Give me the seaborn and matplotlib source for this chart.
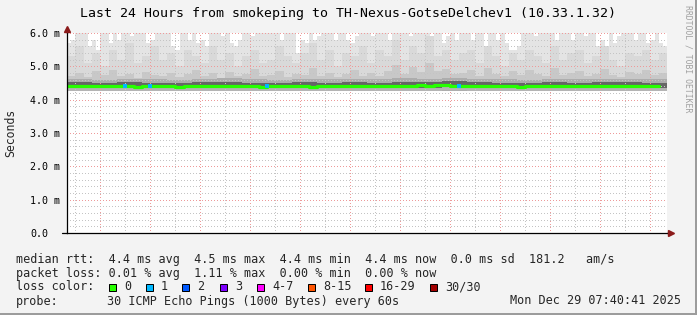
import numpy as np
import pandas as pd
import matplotlib
matplotlib.use("Agg")
import matplotlib.pyplot as plt
import matplotlib.dates as mdates
from matplotlib.ticker import MultipleLocator, FuncFormatter
from matplotlib.patches import Rectangle
import seaborn as sns

# ---------------- data ----------------
title = "Last 24 Hours from smokeping to TH-Nexus-GotseDelchev1 (10.33.1.32)"
t_start = "2025-12-28 07:40:41"
t_end = "2025-12-29 07:40:41"

# lightest smoke: maximum ping per 10-min bin (ms), clipped at top of graph
smoke_top = [
    5.7, 5.8, 6.2, 6.2, 6.2, 5.6, 5.8, 5.5, 6.2, 6.2, 5.7, 6.2,
    5.8, 6.2, 6.2, 5.9, 6.2, 6.2, 6.2, 5.7, 5.8, 6.2, 6.2, 6.2,
    6.2, 5.6, 5.5, 6.2, 6.2, 5.8, 6.2, 5.7, 5.8, 5.6, 6.2, 6.2,
    6.2, 5.9, 6.2, 5.7, 5.6, 5.8, 6.2, 6.2, 5.9, 6.2, 6.2, 6.2,
    6.2, 6.2, 6.2, 5.8, 6.2, 6.2, 6.2, 5.4, 5.8, 5.7, 6.2, 5.8,
    5.9, 6.2, 6.2, 6.2, 5.8, 6.2, 6.2, 5.8, 5.7, 5.9, 6.2, 6.2,
    6.2, 5.9, 6.2, 6.2, 6.2, 5.8, 6.2, 6.2, 6.2, 6.2, 5.9, 6.2,
    6.2, 6.2, 6.2, 5.9, 6.2, 6.2, 5.7, 5.9, 6.2, 5.8, 6.2, 6.2,
    6.2, 5.8, 6.2, 6.2, 5.6, 6.2, 6.2, 5.8, 6.2, 5.7, 5.5, 5.5,
    5.6, 6.2, 6.2, 6.2, 5.9, 6.2, 6.2, 6.2, 6.2, 5.8, 6.2, 6.2,
    6.2, 5.8, 6.2, 6.2, 5.9, 6.2, 6.2, 5.6, 5.8, 5.5, 6.2, 5.7,
    5.9, 6.2, 6.2, 6.2, 5.8, 6.2, 6.2, 5.7, 5.8, 6.2, 5.7, 5.6,
]

# second smoke layer per 20-min bin (ms)
smoke_upper = [
    5.3, 5.6, 5.1, 5.4, 5.0, 5.5, 5.2, 5.7, 5.1, 5.3, 5.6, 5.2,
    5.4, 5.0, 5.5, 5.3, 5.1, 5.6, 5.2, 5.4, 5.0, 5.3, 5.5, 5.1,
    5.2, 5.6, 5.3, 5.1, 5.4, 5.7, 5.2, 5.5, 5.0, 5.4, 5.3, 5.6,
    5.1, 5.5, 5.3, 5.8, 5.2, 5.6, 5.4, 5.9, 5.3, 5.5, 5.2, 5.4,
    5.5, 5.1, 5.6, 5.3, 5.0, 5.4, 5.2, 5.5, 5.3, 5.1, 5.6, 5.2,
    5.4, 5.5, 5.1, 5.3, 5.6, 5.2, 5.0, 5.4, 5.3, 5.5, 5.2, 5.4,
]

# middle smoke layer per 20-min bin (ms)
smoke_mid = [
    4.72, 4.80, 4.68, 4.85, 4.74, 4.90, 4.70, 4.78, 4.66, 4.82, 4.75, 4.70,
    4.80, 4.68, 4.76, 4.88, 4.72, 4.79, 4.66, 4.84, 4.70, 4.77, 4.92, 4.71,
    4.74, 4.86, 4.69, 4.78, 4.73, 4.95, 4.70, 4.81, 4.68, 4.76, 4.89, 4.72,
    4.80, 4.71, 4.87, 5.05, 4.78, 4.98, 4.82, 5.10, 4.85, 4.93, 4.76, 4.80,
    4.88, 4.72, 4.96, 4.78, 4.70, 4.85, 4.74, 4.90, 4.76, 4.71, 4.94, 4.75,
    4.80, 4.86, 4.72, 4.78, 4.91, 4.74, 4.69, 4.83, 4.76, 4.88, 4.73, 4.80,
]

# inner smoke bands per hour (ms)
smoke_inner = [4.62, 4.60, 4.63, 4.61, 4.60, 4.62, 4.64, 4.61, 4.60, 4.62, 4.61, 4.63,
               4.62, 4.64, 4.63, 4.66, 4.62, 4.61, 4.60, 4.62, 4.61, 4.63, 4.62, 4.61]
core_hi = [4.52, 4.51, 4.52, 4.51, 4.50, 4.52, 4.53, 4.51, 4.50, 4.52, 4.51, 4.52,
           4.51, 4.53, 4.52, 4.55, 4.52, 4.51, 4.50, 4.52, 4.51, 4.52, 4.52, 4.51]
core_lo = [4.36, 4.35, 4.36, 4.35, 4.35, 4.36, 4.36, 4.35, 4.35, 4.36, 4.35, 4.36,
           4.35, 4.36, 4.36, 4.38, 4.36, 4.35, 4.35, 4.36, 4.35, 4.36, 4.36, 4.35]
smoke_low = [4.27, 4.26, 4.27, 4.26, 4.25, 4.27, 4.27, 4.26, 4.26, 4.27, 4.26, 4.27,
             4.26, 4.27, 4.27, 4.29, 4.27, 4.26, 4.26, 4.27, 4.26, 4.27, 4.27, 4.26]

# median RTT per 20-min bin (ms) and lost pings in that bin
median_ms = [
    4.42, 4.41, 4.42, 4.41, 4.40, 4.41, 4.42, 4.40, 4.39, 4.41, 4.42, 4.41,
    4.40, 4.38, 4.40, 4.41, 4.42, 4.41, 4.40, 4.41, 4.42, 4.41, 4.40, 4.39,
    4.41, 4.40, 4.41, 4.42, 4.40, 4.39, 4.41, 4.42, 4.41, 4.40, 4.41, 4.42,
    4.40, 4.41, 4.42, 4.41, 4.40, 4.42, 4.43, 4.41, 4.44, 4.45, 4.42, 4.41,
    4.42, 4.41, 4.40, 4.42, 4.41, 4.40, 4.38, 4.40, 4.42, 4.41, 4.40, 4.41,
    4.42, 4.41, 4.42, 4.40, 4.41, 4.42, 4.41, 4.42, 4.40, 4.42, 4.41, 4.41,
]
loss_count = [0] * 72
for i in (7, 10, 24, 47):
    loss_count[i] = 1

y_ticks = [0, 1, 2, 3, 4, 5, 6]
y_tick_labels = ["0.0", "1.0 m", "2.0 m", "3.0 m", "4.0 m", "5.0 m", "6.0 m"]

loss_labels = ["0", "1", "2", "3", "4-7", "8-15", "16-29", "30/30"]
loss_colors = ["#26ff00", "#00b8ff", "#0059ff", "#7e00ff", "#ff00ff",
               "#ff5500", "#ff0000", "#a10000"]

row_rtt = "median rtt:  4.4 ms avg  4.5 ms max  4.4 ms min  4.4 ms now  0.0 ms sd  181.2   am/s"
row_loss = "packet loss: 0.01 % avg  1.11 % max  0.00 % min  0.00 % now"
row_color = "loss color:"
row_probe_l = "probe:"
row_probe = "30 ICMP Echo Pings (1000 Bytes) every 60s"
row_date = "Mon Dec 29 07:40:41 2025"
watermark = "RRDTOOL / TOBI OETIKER"

# ---------------- style ----------------
sns.set_style("white")
plt.rcParams["font.family"] = ["DejaVu Sans Mono", "DejaVu Sans"]
plt.rcParams["lines.scale_dashes"] = False

W, H = 697, 315
fig = plt.figure(figsize=(W / 100, H / 100), dpi=100, facecolor="#f3f3f3")
L, R, T, B = 67, 667, 33, 233
ax = fig.add_axes([L / W, 1 - B / H, (R - L) / W, (B - T) / H])
ax.set_facecolor("white")

def step_grid(vals, freq):
    t = pd.date_range(t_start, periods=len(vals) + 1, freq=freq)
    v = np.append(np.asarray(vals, float), vals[-1])
    return t, v

base = min(smoke_low)
t, v = step_grid(smoke_top, "10min")
ax.fill_between(t, base, v, step="post", color="#e4e4e4", lw=0, zorder=1)
t, v = step_grid(smoke_upper, "20min")
ax.fill_between(t, base, v, step="post", color="#d9d9d9", lw=0, zorder=1.1)
t, v = step_grid(smoke_mid, "20min")
ax.fill_between(t, base, v, step="post", color="#c8c8c8", lw=0, zorder=1.2)
t, v = step_grid(smoke_inner, "60min")
ax.fill_between(t, base, v, step="post", color="#adadad", lw=0, zorder=1.3)
t, lo = step_grid(smoke_low, "60min")
_, hi = step_grid(core_lo, "60min")
ax.fill_between(t, lo, hi, step="post", color="#b4b4b4", lw=0, zorder=1.4)
_, lo2 = step_grid(core_lo, "60min")
_, hi2 = step_grid(core_hi, "60min")
ax.fill_between(t, lo2, hi2, step="post", color="#666666", lw=0, zorder=1.5)

df = pd.DataFrame({
    "time": pd.date_range(t_start, periods=len(median_ms), freq="20min"),
    "median": median_ms,
    "loss": [loss_labels[min(c, 1)] if c < 4 else "4-7" for c in loss_count],
})
sns.lineplot(data=df, x="time", y="median", color=loss_colors[0], lw=2.3,
             drawstyle="steps-post", ax=ax, zorder=3)
lossy = df[df["loss"] != "0"]
sns.scatterplot(data=lossy, x="time", y="median", hue="loss",
                palette=dict(zip(loss_labels, loss_colors)), marker="s",
                s=9, linewidth=0, legend=False, ax=ax, zorder=4)

# axes limits / ticks
ax.set_xlim(pd.Timestamp(t_start), pd.Timestamp(t_end))
ax.set_ylim(0, 6.0)
ax.xaxis.set_major_locator(mdates.HourLocator(interval=2))
ax.xaxis.set_minor_locator(mdates.HourLocator())
ax.xaxis.set_major_formatter(FuncFormatter(
    lambda x, p: mdates.num2date(x).strftime("%a %H:%M")
    if mdates.num2date(x).hour % 4 == 0 else ""))
ax.set_yticks(y_ticks, labels=y_tick_labels)
ax.yaxis.set_minor_locator(MultipleLocator(0.2))
plt.setp(ax.get_yticklabels(), ha="left")

dot = (0, (0.5, 1.5))
ax.grid(which="minor", color="#c4c4c4", lw=0.72, ls=dot, zorder=2, antialiased=False)
ax.grid(which="major", color="#ee9a9a", lw=0.72, ls=dot, zorder=2, antialiased=False)
ax.set_axisbelow(False)

ax.tick_params(axis="x", which="major", length=1.8, width=0.72, color="#ee9a9a",
               pad=1.6, labelsize=7.2, labelcolor="black")
ax.tick_params(axis="x", which="minor", length=1.4, width=0.72, color="#c4c4c4")
ax.tick_params(axis="y", which="major", length=2.9, width=0.72, color="#ee9a9a",
               pad=23.7, labelsize=7.2, labelcolor="black")
ax.tick_params(axis="y", which="minor", length=1.4, width=0.72, color="#c4c4c4")

for s in ("top", "right"):
    ax.spines[s].set_visible(False)
for s in ("left", "bottom"):
    ax.spines[s].set_color("black")
    ax.spines[s].set_linewidth(0.9)
    ax.spines[s].set_zorder(5)
ax.set_xlabel("")
ax.set_ylabel("")

# axis extensions and arrows
ax.plot([0, 0], [1, 1.025], transform=ax.transAxes, color="black", lw=0.9, clip_on=False, zorder=5)
ax.plot([-0.008, 0], [0, 0], transform=ax.transAxes, color="black", lw=0.9, clip_on=False, zorder=5)
ax.plot([1.0, 1.004], [0, 0], transform=ax.transAxes, color="black", lw=0.9, clip_on=False, zorder=5)
ax.plot([1.006], [0], marker=">", ms=4.5, color="#8b1a1a", mec="#8b1a1a",
        transform=ax.transAxes, clip_on=False, zorder=6)
ax.plot([0], [1.022], marker="^", ms=4.5, color="#8b1a1a", mec="#8b1a1a",
        transform=ax.transAxes, clip_on=False, zorder=6)

def fx(px):
    return px / W

def fy(py):
    return 1 - py / H

fig.text(fx(348), fy(14), title, ha="center", va="center", fontsize=9.5, color="black")
fig.text(fx(11), fy(133), "Seconds", rotation=90, ha="center", va="center", fontsize=8.3)
fig.text(fx(688), fy(59), watermark, rotation=270, ha="center", va="center",
         fontsize=5.9, color="#a0a0a0")

LF = 8.5
fig.text(fx(16), fy(259), row_rtt, ha="left", va="center", fontsize=LF)
fig.text(fx(16), fy(273), row_loss, ha="left", va="center", fontsize=LF)
fig.text(fx(16), fy(287), row_color, ha="left", va="center", fontsize=LF)
fig.text(fx(16), fy(301), row_probe_l, ha="left", va="center", fontsize=LF)
fig.text(fx(107), fy(301), row_probe, ha="left", va="center", fontsize=LF)
fig.text(fx(681), fy(301), row_date, ha="right", va="center", fontsize=LF)

box_x = [109, 146, 182, 220, 257, 308, 365, 430]
lab_x = [124, 161, 197, 235, 272, 323, 380, 445]
for bx, lx, lab, col in zip(box_x, lab_x, loss_labels, loss_colors):
    fig.add_artist(Rectangle((fx(bx), fy(290.7)), 7.0 / W, 7.2 / H,
                             transform=fig.transFigure, facecolor=col,
                             edgecolor="black", lw=0.72))
    fig.text(fx(lx), fy(287), lab, ha="left", va="center", fontsize=LF)

# frame shadow
fig.add_artist(Rectangle((fx(695), 0), 2 / W, 1, transform=fig.transFigure,
                         facecolor="#9c9c9c", lw=0))
fig.add_artist(Rectangle((0, 0), 1, 2 / H, transform=fig.transFigure,
                         facecolor="#9c9c9c", lw=0))

fig.savefig("out.png", dpi=100, facecolor=fig.get_facecolor())
